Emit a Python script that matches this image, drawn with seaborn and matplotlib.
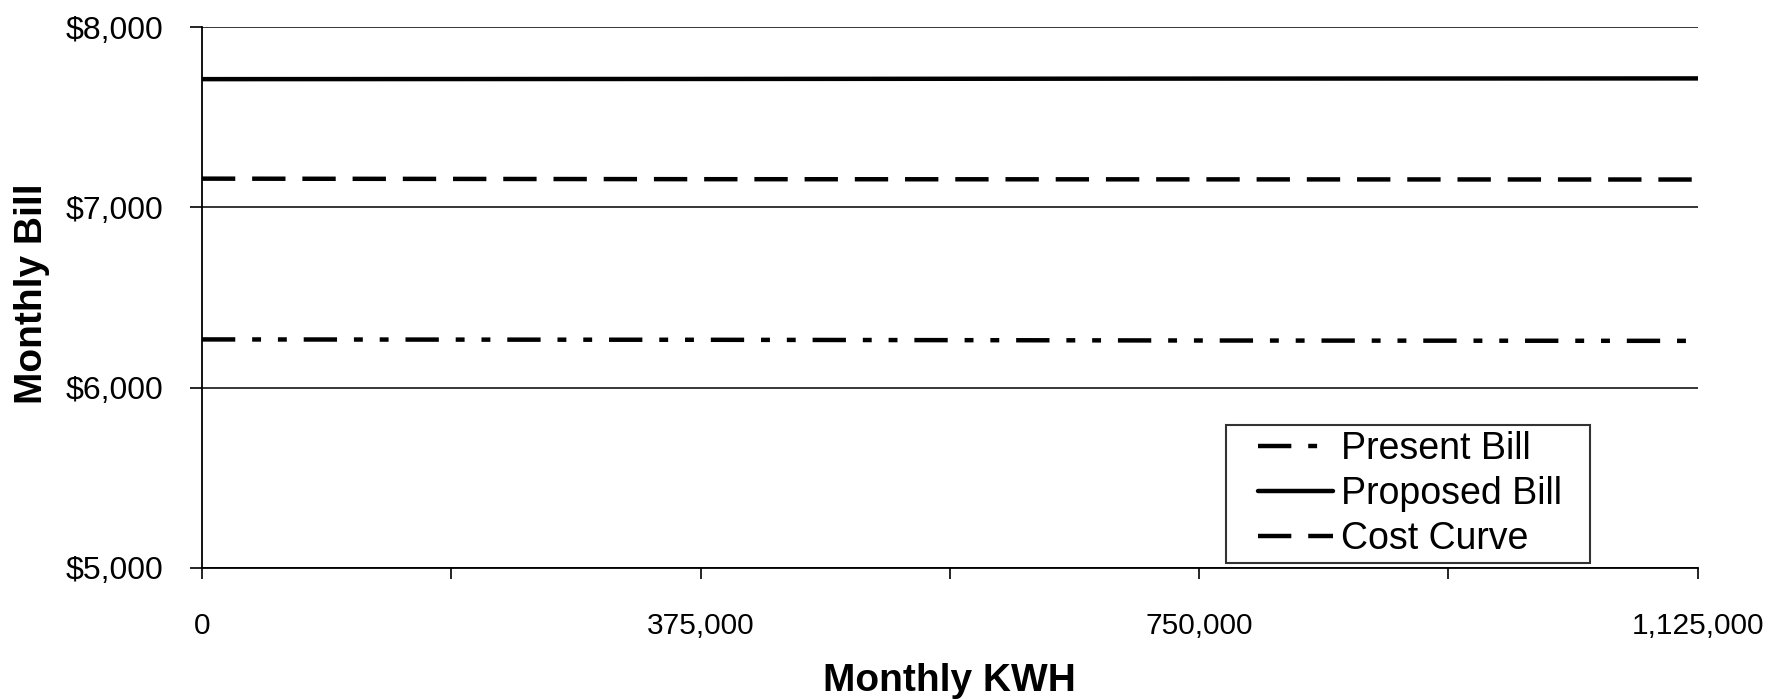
import pandas as pd
import seaborn as sns
import matplotlib.pyplot as plt
from matplotlib.lines import Line2D
from matplotlib.legend_handler import HandlerLine2D
from matplotlib.ticker import MultipleLocator, FuncFormatter

# Data
kwh = [0, 375000, 750000, 1125000]
present_bill = [6268, 6266, 6262, 6260]
proposed_bill = [7712, 7713, 7715, 7716]
cost_curve = [7160, 7157, 7156, 7155]
series_names = ['Present Bill', 'Proposed Bill', 'Cost Curve']

df = pd.DataFrame({
    'kwh': kwh * 3,
    'bill': present_bill + proposed_bill + cost_curve,
    'series': [s for s in series_names for _ in kwh],
})

sns.set_style('white')
plt.rcParams['font.family'] = ['Liberation Sans', 'DejaVu Sans']
plt.rcParams['text.color'] = 'black'
plt.rcParams['xtick.color'] = 'black'
plt.rcParams['ytick.color'] = 'black'
plt.rcParams['axes.labelcolor'] = 'black'

fig = plt.figure(figsize=(17.87, 7), dpi=100)
ax = fig.add_axes([0.113, 0.1886, 0.837, 0.7725])

dashes = {
    'Present Bill': (7.5, 3.8, 2, 3.8, 2, 3.8),
    'Proposed Bill': '',
    'Cost Curve': (7.5, 3.8),
}
sns.lineplot(data=df, x='kwh', y='bill', style='series', style_order=series_names,
             dashes=dashes, color='black', linewidth=3.2, ax=ax, legend=True)

ax.set_xlim(0, 1125000)
ax.set_ylim(5000, 8000)
ax.xaxis.set_major_locator(MultipleLocator(375000))
ax.xaxis.set_minor_locator(MultipleLocator(187500))
ax.yaxis.set_major_locator(MultipleLocator(1000))
ax.xaxis.set_major_formatter(FuncFormatter(lambda v, p: f'{v:,.0f}'))
ax.yaxis.set_major_formatter(FuncFormatter(lambda v, p: f'${v:,.0f}'))

ax.grid(axis='y', color='black', linewidth=1.1)
ax.grid(axis='x', visible=False)
for s in ['top', 'right']:
    ax.spines[s].set_visible(False)
for s in ['left', 'bottom']:
    ax.spines[s].set_color('black')
    ax.spines[s].set_linewidth(1.3)

ax.tick_params(axis='x', which='both', direction='out', length=8, width=1.2,
               bottom=True, labelsize=21.5, pad=24)
ax.tick_params(axis='y', which='major', direction='out', length=9, width=1.2,
               left=True, labelsize=23, pad=19)

ax.set_xlabel('Monthly KWH', fontsize=28, fontweight='bold', labelpad=16)
ax.set_ylabel('Monthly Bill', fontsize=28, fontweight='bold')
ax.yaxis.set_label_coords(-0.1017, 0.508)

# legend: handle drawn with a left gap inside the box
handles, labels = ax.get_legend_handles_labels()
leg = ax.legend(handles, labels, loc='lower left',
                bbox_to_anchor=(0.685, 0.009, 0.243, 0.259), mode='expand',
                borderaxespad=0, fontsize=27, frameon=True, fancybox=False,
                edgecolor='black', handlelength=2.7, handletextpad=0.2,
                labelspacing=0.25, borderpad=0.15,
                handler_map={Line2D: HandlerLine2D(xpad=0.7)})
leg.get_frame().set_linewidth(1.5)

fig.savefig('out.png', dpi=100)
